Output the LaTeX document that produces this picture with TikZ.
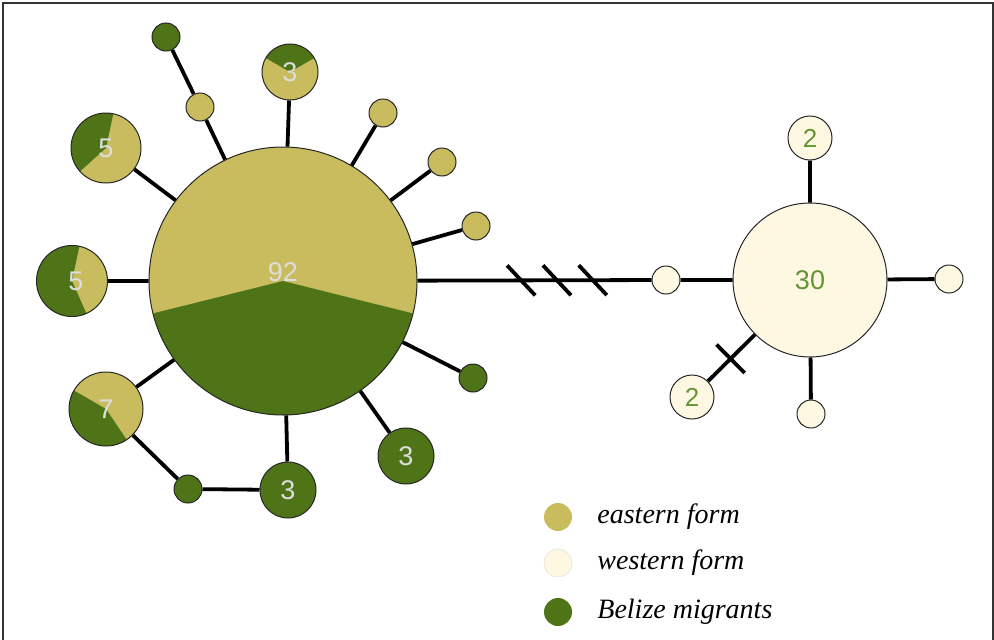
\documentclass[tikz,border=0pt]{standalone}
\usepackage{fontspec}
\setmainfont{Liberation Sans}
\newfontfamily\legfont{Liberation Serif}
\usepackage{xcolor}
\usepackage{tikz}
\usetikzlibrary{shapes, positioning, decorations.markings}

\definecolor{eastern}{HTML}{C8BC5E}
\definecolor{western}{HTML}{FEF8E3}
\definecolor{belize}{HTML}{4F7418}
\definecolor{numgreen}{HTML}{659535}
\definecolor{numgray}{HTML}{DDDDDD}

\tikzset{
  hap/.style={circle, draw=black!85, line width=1pt, inner sep=0pt,
    font=\fontsize{27}{30}\selectfont},
  east/.style={hap, fill=eastern, text=numgray},
  west/.style={hap, fill=western, text=numgreen},
  mig/.style={hap, fill=belize, text=numgray},
  pie/.style 2 args={path picture={
    \fill[belize] (path picture bounding box.center) -- ++(#1:300pt)
      arc[start angle=#1, end angle=#2, radius=300pt] -- cycle;}},
  link/.style={line width=3.8pt},
  mutmark/.style={line width=3.8pt},
  leg/.style={circle, minimum size=28pt, inner sep=0pt},
  legtext/.style={inner sep=0pt, text height=0.7em, text depth=0.2em,
    font=\legfont\itshape\fontsize{28}{30}\selectfont}
}

\begin{document}
\begin{tikzpicture}[x=1pt, y=-1pt]

\useasboundingbox (0,0) rectangle (994,640);
\draw[line width=1.5pt, black!80] (3,640) -- (3,3) -- (993,3) -- (993,640);

% eastern form and Belize migrants
\node[east, minimum size=268pt, pie={194}{346},
    label={[text=numgray, font=\fontsize{27}{30}\selectfont, yshift=9pt]center:92}] at (283,281) (h92) {};
\node[east, minimum size=56pt, pie={30}{150}] at (290,72) (h3) {3};
\node[east, minimum size=70pt, pie={78}{222}] at (106,148) (h5a) {5};
\node[east, minimum size=71pt, pie={78}{294},
    label={[text=numgray, font=\fontsize{27}{30}\selectfont, xshift=4pt]center:5}] at (72,281) (h5b) {};
\node[east, minimum size=74pt, pie={150}{304}] at (106,409) (h7) {7};

\node[east, minimum size=28pt] at (200,107) (e1) {};
\node[east, minimum size=28pt] at (383,113) (e2) {};
\node[east, minimum size=28pt] at (442,162) (e3) {};
\node[east, minimum size=28pt] at (476,226) (e4) {};

\node[mig, minimum size=28pt] at (166,37) (m1) {};
\node[mig, minimum size=28pt] at (473,378) (m2) {};
\node[mig, minimum size=56pt] at (406,456) (m3) {3};
\node[mig, minimum size=56pt] at (288,490) (m4) {3};
\node[mig, minimum size=28pt] at (188,489) (m5) {};

% western form
\node[west, minimum size=28pt] at (666,280) (w1) {};
\node[west, minimum size=154pt] at (810,280) (w30) {30};
\node[west, minimum size=44pt, font=\fontsize{26}{28}\selectfont] at (810,138) (w2a) {2};
\node[west, minimum size=44pt, font=\fontsize{26}{28}\selectfont] at (692,397) (w2b) {2};
\node[west, minimum size=28pt] at (949,279) (w3) {};
\node[west, minimum size=28pt] at (811,414) (w4) {};

\draw[link] (h92) -- (e1) (e1) -- (m1)
            (h92) -- (h3)
            (h92) -- (h5a)
            (h92) -- (h5b)
            (h92) -- (h7)
            (h92) -- (e2)
            (h92) -- (e3)
            (h92) -- (e4)
            (h92) -- (m2)
            (h92) -- (m3)
            (h92) -- (m4)
            (h7) -- (m5) (m5) -- (m4);

\draw[link, postaction={decorate}, decoration={markings,
    mark=at position 0.443 with {\draw[mutmark] (-14pt,15pt) -- (14pt,-15pt);},
    mark=at position 0.596 with {\draw[mutmark] (-14pt,15pt) -- (14pt,-15pt);},
    mark=at position 0.749 with {\draw[mutmark] (-14pt,15pt) -- (14pt,-15pt);}}]
    (h92) -- (w1);

\draw[link] (w1) -- (w30)
            (w30) -- (w2a)
            (w30) -- (w3)
            (w30) -- (w4);
\draw[link, postaction={decorate}, decoration={markings,
    mark=at position 0.52 with {\draw[mutmark] (0pt,-20pt) -- (0pt,20pt);}}]
    (w30) -- (w2b);

% legend
\node[leg, fill=eastern] at (558,517) (lgE) {};
\node[leg, fill=western, draw=black!15] at (558,563) (lgW) {};
\node[leg, fill=belize] at (558,612) (lgB) {};
\node[legtext, right=25pt of lgE, yshift=-4pt] (tE) {eastern form};
\node[legtext, right=25pt of lgW, yshift=-4pt] (tW) {western form};
\node[legtext, right=25pt of lgB, yshift=-4pt] (tB) {Belize migrants};

\end{tikzpicture}
\end{document}
